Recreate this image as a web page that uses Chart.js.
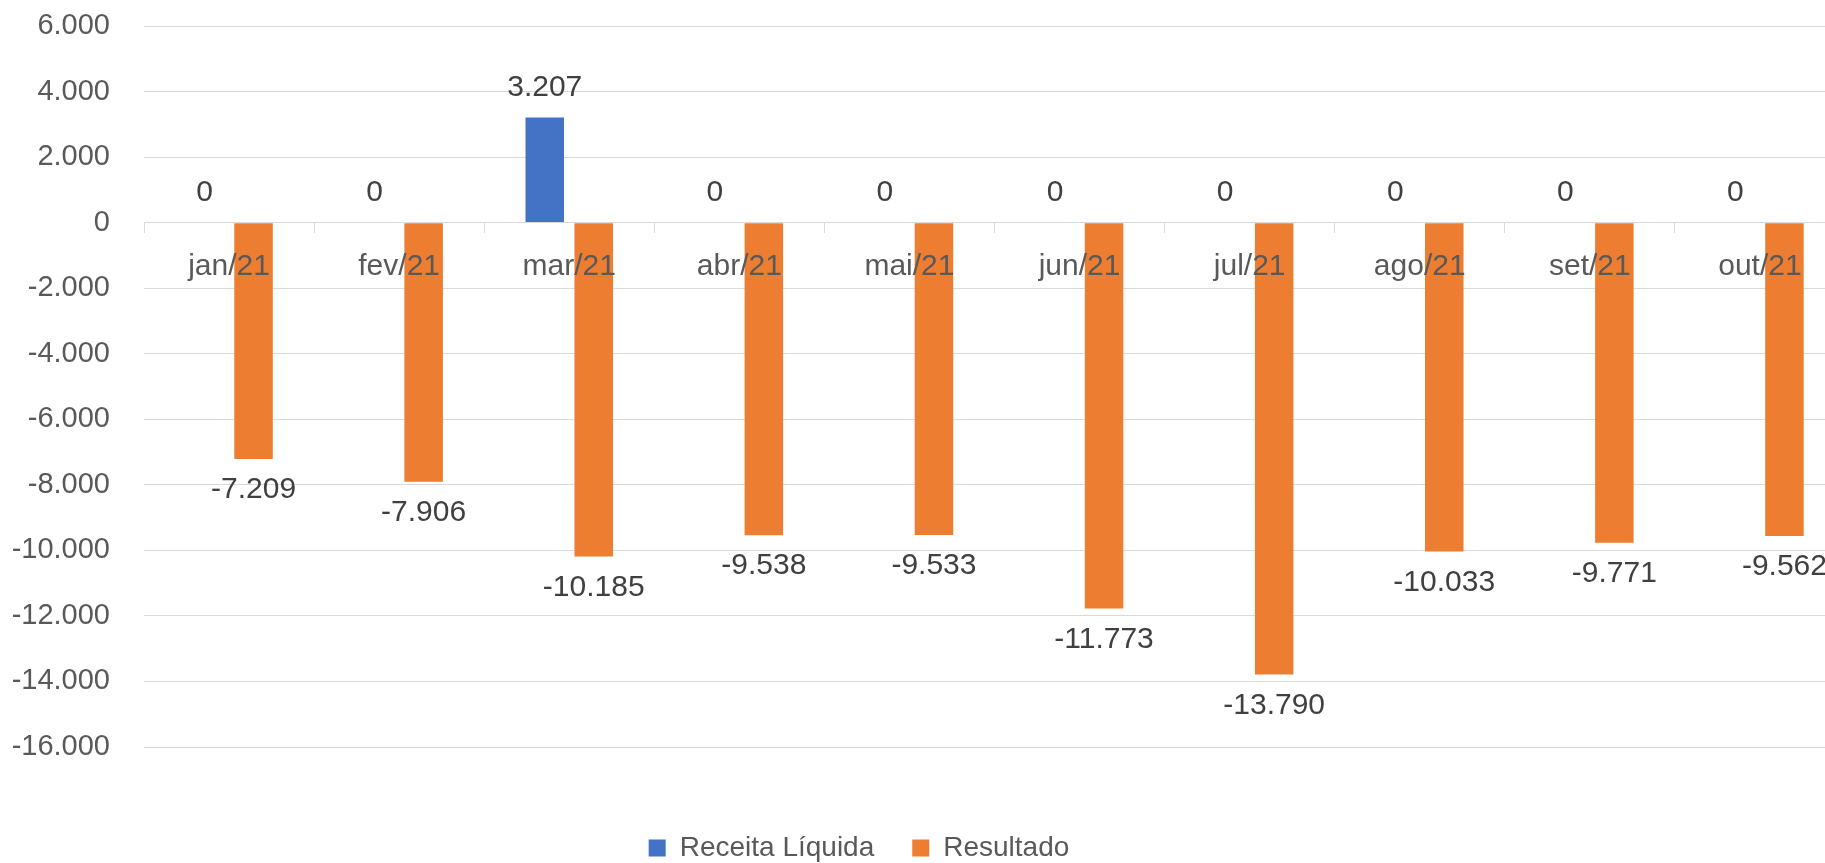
<!DOCTYPE html>
<html>
<head>
<meta charset="utf-8">
<script src="https://cdn.jsdelivr.net/npm/chart.js@4/dist/chart.umd.min.js"></script>
<style>
  html, body { margin: 0; padding: 0; background: #ffffff; overflow: hidden; }
  #wrap { width: 1850px; height: 863px; }
</style>
</head>
<body>
<div id="wrap"><canvas id="c" width="1850" height="863"></canvas></div>
<script>
const categories = ['jan/21','fev/21','mar/21','abr/21','mai/21','jun/21','jul/21','ago/21','set/21','out/21'];
const receitaLiquida = [0, 0, 3207, 0, 0, 0, 0, 0, 0, 0];
const resultado = [-7209, -7906, -10185, -9538, -9533, -11773, -13790, -10033, -9771, -9562];
const seriesNames = ['Receita Líquida', 'Resultado'];
const yMin = -16000, yMax = 6000, yStep = 2000;

function fmt(v) {
  const s = Math.abs(Math.round(v)).toString().replace(/\B(?=(\d{3})+(?!\d))/g, '.');
  return (v < 0 ? '-' : '') + s;
}

const FONT = "'Liberation Sans', Arial, sans-serif";

const dataLabels = {
  id: 'dataLabels',
  afterDraw(chart) {
    const ctx = chart.ctx;
    ctx.save();
    ctx.font = '30px ' + FONT;
    ctx.fillStyle = '#404040';
    ctx.textAlign = 'center';
    ctx.textBaseline = 'middle';
    chart.data.datasets.forEach((ds, di) => {
      const meta = chart.getDatasetMeta(di);
      meta.data.forEach((el, i) => {
        const v = ds.data[i];
        const y = v >= 0 ? el.y - 30 : el.y + 31;
        ctx.fillText(fmt(v), el.x, y);
      });
    });
    ctx.restore();
  }
};

const legendMover = {
  id: 'legendMover',
  beforeDraw(chart) {
    const lg = chart.legend;
    if (!lg) return;
    const pad = lg.options.labels.padding;
    const fs = lg.options.labels.font.size;
    const dy = 848 - (lg.top + pad + fs / 2);
    lg.top += dy; lg.bottom += dy;
    const w = lg.right - lg.left;
    const cx = 859;
    lg.left = cx - w / 2; lg.right = cx + w / 2;
  }
};

new Chart(document.getElementById('c'), {
  type: 'bar',
  data: {
    labels: categories,
    datasets: [
      { label: seriesNames[0], data: receitaLiquida, backgroundColor: '#4472C4', borderWidth: 0 },
      { label: seriesNames[1], data: resultado, backgroundColor: '#ED7D31', borderWidth: 0 }
    ]
  },
  options: {
    responsive: false,
    devicePixelRatio: 1,
    animation: false,
    categoryPercentage: 0.576,
    barPercentage: 0.786,
    layout: { padding: { left: 0, right: 5, top: 26, bottom: 40 } },
    plugins: {
      tooltip: { enabled: false },
      legend: {
        position: 'bottom',
        labels: {
          boxWidth: 17, boxHeight: 17, padding: 38,
          color: '#595959',
          font: { family: FONT, size: 28 }
        }
      }
    },
    scales: {
      x: {
        position: { y: 0 },
        grid: { offset: true, drawOnChartArea: false, drawTicks: true, tickLength: 10, color: '#D9D9D9', z: 1 },
        border: { display: true, color: '#D9D9D9', width: 1, z: 1 },
        ticks: { color: '#595959', font: { family: FONT, size: 30 }, padding: 16, maxRotation: 0, z: 1 }
      },
      y: {
        min: yMin, max: yMax,
        afterFit(scale) { scale.width = 144; scale.paddingTop = 0; scale.paddingBottom = 0; },
        grid: { color: '#D9D9D9', drawTicks: false, lineWidth: 1 },
        border: { display: false },
        ticks: { stepSize: yStep, color: '#595959', font: { family: FONT, size: 29 }, padding: 34, callback: (v) => fmt(v) }
      }
    }
  },
  plugins: [dataLabels, legendMover]
});
</script>
</body>
</html>
